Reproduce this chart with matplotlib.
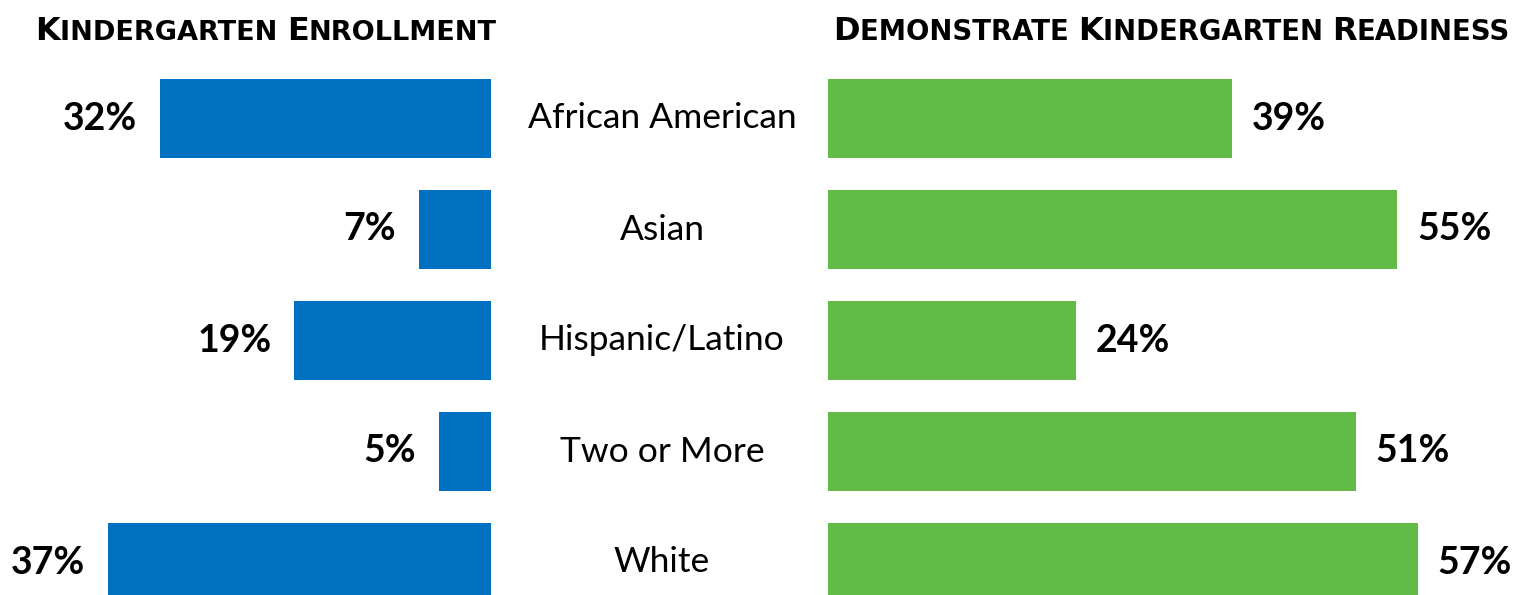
import matplotlib.pyplot as plt

groups = ['African American', 'Asian', 'Hispanic/Latino', 'Two or More', 'White']
enrollment = [32, 7, 19, 5, 37]
readiness = [39, 55, 24, 51, 57]

BLUE = '#0070c0'
GREEN = '#62bb46'
W, H = 1528, 595
PX = 10.35  # pixels per percent point

fig = plt.figure(figsize=(W / 100, H / 100), dpi=100)

# y limits so that row centres land at 118.5 + 111*i px from top
ytop = -118.5 / 111
ybot = (H - 118.5) / 111

left_w = 491
axl = fig.add_axes([0, 0, left_w / W, 1])
axl.set_xlim(left_w / PX, 0)
axl.set_ylim(ybot, ytop)
axl.axis('off')

right_x0 = 828
axr = fig.add_axes([right_x0 / W, 0, (W - right_x0) / W, 1])
axr.set_xlim(0, (W - right_x0) / PX)
axr.set_ylim(ybot, ytop)
axr.axis('off')

ypos = range(len(groups))
axl.barh(ypos, enrollment, height=79 / 111, color=BLUE)
axr.barh(ypos, readiness, height=79 / 111, color=GREEN)

font = 'Lato'
for i, v in enumerate(enrollment):
    axl.text(v + 2.2, i, f'{v}%', ha='right', va='center', fontsize=27,
             fontweight='bold', family=font)
for i, v in enumerate(readiness):
    axr.text(v + 1.9, i, f'{v}%', ha='left', va='center', fontsize=27,
             fontweight='bold', family=font)
# category names sit in the gap between the two panels
for i, g in enumerate(groups):
    axr.text(-166 / PX, i + 10 / 111, g, ha='center', va='baseline',
             fontsize=25.5, family=font)


def chain(x, y, words, big, small, family):
    # fake small caps: big first letter, smaller upper-case rest
    renderer = fig.canvas.get_renderer()
    cur = x
    for j, w in enumerate(words):
        rest = w[1:].upper() + (' ' if j < len(words) - 1 else '')
        for s, fs in [(w[0], big), (rest, small)]:
            t = fig.text(cur / W, 1 - y / H, s, fontsize=fs, family=family,
                         fontweight='bold', va='baseline')
            cur += t.get_window_extent(renderer).width


chain(35, 40, ['Kindergarten', 'Enrollment'], 23, 19.5, 'DejaVu Sans')
chain(833, 40, ['Demonstrate', 'Kindergarten', 'Readiness'], 23, 19.8,
      'DejaVu Sans')

fig.savefig('out.png', dpi=100)
